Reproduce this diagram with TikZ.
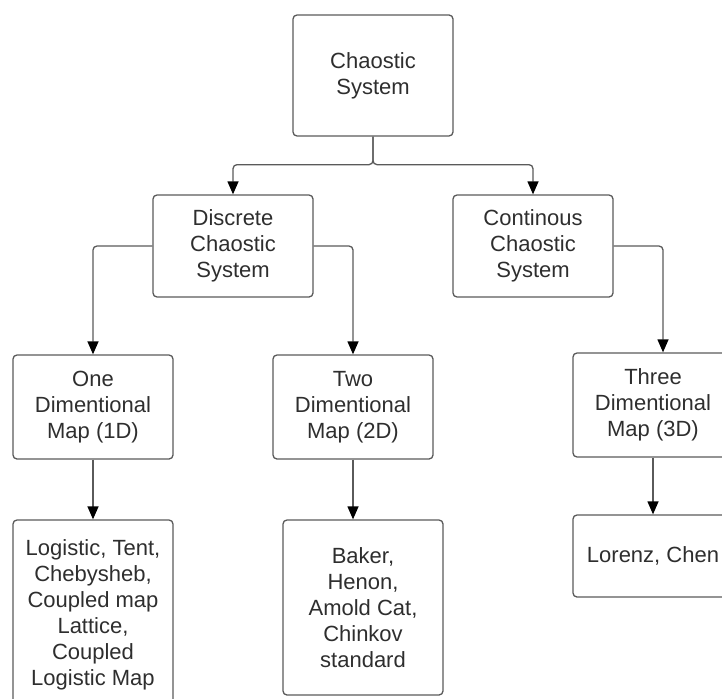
\documentclass[tikz,border=0pt]{standalone}
\usepackage{fontspec}
\setmainfont{Liberation Sans}
\usetikzlibrary{arrows.meta,calc,positioning}
\definecolor{edgegray}{HTML}{5A5A5A}
\definecolor{textgray}{HTML}{2E2E2E}

\begin{document}
\begin{tikzpicture}[x=1pt,y=-1pt,>={Triangle[width=11pt,length=13pt,color=black]},font=\fontsize{22}{26}\selectfont]
  \tikzset{
    box/.style={draw=edgegray,line width=1.3pt,rounded corners=4pt,align=center,text=textgray,
      minimum width=160pt,inner sep=2pt},
    arr/.style={->,draw=edgegray,line width=1.3pt,rounded corners=4pt}
  }
  \useasboundingbox (0,0) rectangle (722,698);
  \clip (0,0) rectangle (722,698);

  % Root
  \node[box,minimum height=121pt] (sys) at (373,75.5) {Chaostic\\System};

  % First level
  \node[box,minimum height=102pt] (disc) at (233,246) {Discrete\\Chaostic\\System};
  \node[box,minimum height=102pt] (cont) at (533,246) {Continous\\Chaostic\\System};

  \draw[arr] (sys.south) -- ++(0,28) -| (disc.north);
  \draw[arr] (sys.south) -- ++(0,28) -| (cont.north);

  % Map dimensions
  \node[box,minimum height=104pt] (one) at (93,407) {One\\Dimentional\\Map (1D)};
  \node[box,minimum height=104pt] (two) at (353,407) {Two\\Dimentional\\Map (2D)};
  \node[box,minimum height=104pt] (three) at (653,405) {Three\\Dimentional\\Map (3D)};

  \draw[arr] (disc.west) -| (one.north);
  \draw[arr] (disc.east) -| (two.north);
  \draw[arr] (cont.east) -| ([xshift=10pt]three.north);

  % Examples of each map
  \node[box,minimum height=190pt] (logi) at (93,615)
    {Logistic, Tent,\\Chebysheb,\\Coupled map\\Lattice,\\Coupled\\Logistic Map};
  \node[box,minimum height=175pt] (baker) at (363,607.5)
    {Baker,\\Henon,\\Amold Cat,\\Chinkov\\standard};
  \node[box,minimum height=82pt] (lor) at (653,556) {Lorenz, Chen};

  \draw[arr] (one.south) -- (logi.north);
  \draw[arr] (two.south) -- (two.south |- baker.north);
  \draw[arr] (three.south) -- (lor.north);
\end{tikzpicture}
\end{document}
